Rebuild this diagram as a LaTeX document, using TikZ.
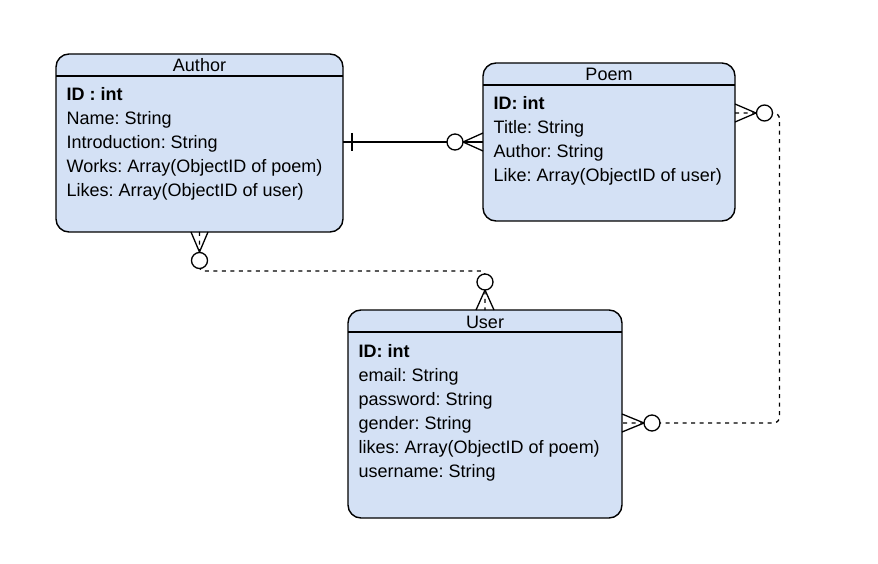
\documentclass[tikz,border=0pt]{standalone}
\usepackage{fontspec}
\setmainfont{Liberation Sans}
\usetikzlibrary{calc}
\frenchspacing
\definecolor{entfill}{HTML}{D4E1F5}
\tikzset{
  entity/.style={draw=black, fill=entfill, line width=1.4pt, rounded corners=13pt, rectangle, outer sep=0pt, inner sep=0pt},
  hdr/.style={anchor=base, inner sep=0pt, font=\fontsize{18}{24}\selectfont},
  attr/.style={anchor=base west, inner sep=0pt, font=\fontsize{18}{24}\selectfont},
  conn/.style={line width=1.3pt, black},
  dashconn/.style={conn, dash pattern=on 4pt off 4.5pt},
  ring/.style={circle, draw=black, fill=white, line width=1.3pt, minimum size=16pt, inner sep=0pt, outer sep=0pt},
}
\begin{document}
\begin{tikzpicture}[x=1pt, y=-1pt]
\useasboundingbox (0,0) rectangle (878,564);
% entities
\node[entity, minimum width=287pt, minimum height=178pt] (author) at (199.5,143) {};
\node[entity, minimum width=252pt, minimum height=158pt] (poem) at (609,142) {};
\node[entity, minimum width=274pt, minimum height=208pt] (user) at (485,414) {};
% header lines
\draw[line width=1.4pt] ($(author.north west)+(0,22)$) -- ($(author.north east)+(0,22)$);
\draw[line width=1.4pt] ($(poem.north west)+(0,22)$) -- ($(poem.north east)+(0,22)$);
\draw[line width=1.4pt] ($(user.north west)+(0,22)$) -- ($(user.north east)+(0,22)$);
% headers
\node[hdr] (authorh) at ($(author.north)+(0,18)$) {Author};
\node[hdr] (poemh) at ($(poem.north)+(0,18)$) {Poem};
\node[hdr] (userh) at ($(user.north)+(0,18)$) {User};
% author attributes
\node[attr] (a1) at ($(author.north west)+(10.5,47)$) {\bfseries ID : int};
\node[attr] (a2) at ($(author.north west)+(10.5,71)$) {Name: String};
\node[attr] (a3) at ($(author.north west)+(10.5,95)$) {Introduction: String};
\node[attr] (a4) at ($(author.north west)+(10.5,119)$) {Works: Array(ObjectID of poem)};
\node[attr] (a5) at ($(author.north west)+(10.5,143)$) {Likes: Array(ObjectID of user)};
% poem attributes
\node[attr] (p1) at ($(poem.north west)+(10.5,47)$) {\bfseries ID: int};
\node[attr] (p2) at ($(poem.north west)+(10.5,71)$) {Title: String};
\node[attr] (p3) at ($(poem.north west)+(10.5,95)$) {Author: String};
\node[attr] (p4) at ($(poem.north west)+(10.5,119)$) {Like: Array(ObjectID of user)};
% user attributes
\node[attr] (u1) at ($(user.north west)+(10.5,47)$) {\bfseries ID: int};
\node[attr] (u2) at ($(user.north west)+(10.5,71)$) {email: String};
\node[attr] (u3) at ($(user.north west)+(10.5,95)$) {password: String};
\node[attr] (u4) at ($(user.north west)+(10.5,119)$) {gender: String};
\node[attr] (u5) at ($(user.north west)+(10.5,143)$) {likes: Array(ObjectID of poem)};
\node[attr] (u6) at ($(user.north west)+(10.5,167)$) {username: String};

% ---- connector 1: Author (one) -- Poem (zero or many), solid
\coordinate (c1a) at (author.east |- poem.west);
\draw[conn] (c1a) -- (poem.west);
\draw[conn] ($(c1a)+(9,-9)$) -- ($(c1a)+(9,9)$);
\draw[conn] ($(poem.west)+(-20,0)$) -- ($(poem.west)+(0,-9)$);
\draw[conn] ($(poem.west)+(-20,0)$) -- ($(poem.west)+(0,9)$);
\node[ring] (r1) at ($(poem.west)+(-28,0)$) {};

% ---- connector 2: Author (many) -- User (many), dashed
\coordinate (c2a) at ($(author.south)+(0,0)$);
\draw[dashconn, rounded corners=4pt] (c2a) -- ($(author.south)+(0,39)$) -| (user.north);
\draw[conn] ($(author.south)+(-8.5,0)$) -- ($(author.south)+(0,20)$) -- ($(author.south)+(8.5,0)$);
\node[ring] (r2) at ($(author.south)+(0,28.5)$) {};
\draw[conn] ($(user.north)+(-9,0)$) -- ($(user.north)+(0,-20)$) -- ($(user.north)+(9,0)$);
\node[ring] (r3) at ($(user.north)+(0,-28)$) {};

% ---- connector 3: Poem (many) -- User (many), dashed
\coordinate (c3a) at ($(poem.east)+(0,-29)$);
\coordinate (c3b) at ($(user.east)+(0,9)$);
\coordinate (c3k) at (779.5,0);
\draw[dashconn, rounded corners=6pt] (c3a) -- (c3k |- c3a) -- (c3k |- c3b) -- (c3b);
\draw[conn] ($(c3a)+(0,-9)$) -- ($(c3a)+(21,0)$) -- ($(c3a)+(0,9)$);
\node[ring] (r4) at ($(c3a)+(29.5,0)$) {};
\draw[conn] ($(c3b)+(0,-9)$) -- ($(c3b)+(22,0)$) -- ($(c3b)+(0,9)$);
\node[ring] (r5) at ($(c3b)+(30,0)$) {};
\end{tikzpicture}
\end{document}
